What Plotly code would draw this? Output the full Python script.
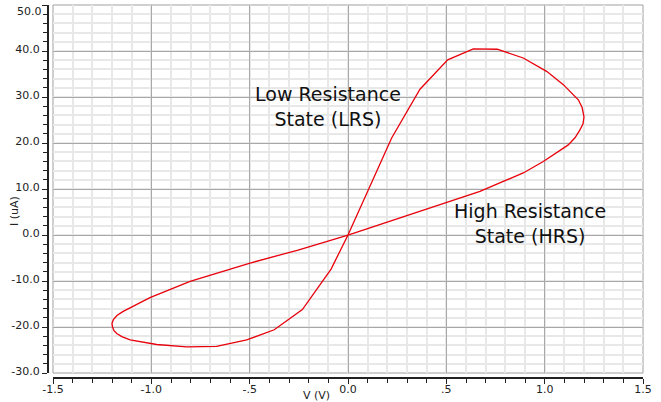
import plotly.graph_objects as go

# Hysteresis loop data (V in volts, I in uA)
voltage = [0.0, 0.163, 0.222, 0.366, 0.507, 0.637, 0.759, 0.891, 1.01, 1.095, 1.171, 1.19, 1.2,
           1.195, 1.18, 1.155, 1.12, 0.993, 0.891, 0.671, 0.502, 0.163, 0.0, -0.254, -0.498, -0.803,
           -1.007, -1.143, -1.175, -1.193, -1.2, -1.198, -1.19, -1.176, -1.15, -1.108, -0.973,
           -0.82, -0.668, -0.515, -0.375, -0.232, -0.086, 0.0]
current = [0.0, 15.3, 21.1, 31.7, 38.1, 40.5, 40.4, 38.5, 35.6, 32.7, 29.4, 27.8, 25.7,
           24.2, 22.9, 21.2, 19.6, 16.0, 13.5, 9.5, 7.1, 2.2, 0.0, -3.26, -6.1, -10.1,
           -13.6, -16.6, -17.5, -18.4, -19.2, -19.9, -20.8, -21.4, -22.1, -22.8, -23.8,
           -24.3, -24.2, -22.8, -20.6, -16.2, -7.4, 0.0]

x_tickvals = [-1.5, -1.0, -0.5, 0.0, 0.5, 1.0, 1.5]
x_ticktext = ["-1.5", "-1.0", "-.5", "0.0", ".5", "1.0", "1.5"]
y_tickvals = [-30, -20, -10, 0, 10, 20, 30, 40, 50]
y_ticktext = ["-30.0", "-20.0", "-10.0", "0.0", "10.0", "20.0", "30.0", "40.0", "50.0"]

labels = ["Low Resistance<br>State (LRS)", "High Resistance<br>State (HRS)"]
label_x = [-0.10, 0.925]
label_y = [27.9, 2.5]

FONT = "DejaVu Sans"
W, H = 661, 402
ml, mr, mt, mb = 48, 18, 5, 24
pw = W - ml - mr
ph = H - mt - mb
off = 5

fig = go.Figure()
fig.add_trace(go.Scatter(x=voltage, y=current, mode="lines",
                         line=dict(color="#e8000b", width=1.3), showlegend=False,
                         hoverinfo="skip"))

major_grid = "#a8a8a8"
minor_grid = "#e8e8e8"

# the top label is drawn separately (pushed down below the frame edge as in the reference)
y_axis_text = y_ticktext[:-1] + [""]

fig.update_layout(
    width=W, height=H,
    margin=dict(l=ml, r=mr, t=mt, b=mb, pad=0, autoexpand=False),
    paper_bgcolor="white", plot_bgcolor="white",
    font=dict(family=FONT, size=11, color="#222"),
    xaxis=dict(
        range=[-1.5, 1.5], domain=[off / pw, 1], anchor="free", position=0,
        automargin=False,
        tickmode="array", tickvals=x_tickvals, ticktext=x_ticktext,
        showgrid=True, gridcolor=major_grid, gridwidth=1,
        zeroline=False, showline=True, linecolor="#222", linewidth=2,
        ticks="outside", ticklen=5, tickcolor="#222", tickwidth=1,
        ticklabelstandoff=-4,
        tickfont=dict(family=FONT, size=11, color="#222"),
        minor=dict(tickmode="linear", tick0=0, dtick=0.1, showgrid=True,
                   gridcolor=minor_grid, gridwidth=2,
                   ticks="outside", ticklen=4, tickcolor="#222", tickwidth=1),
    ),
    yaxis=dict(
        range=[-30, 50.02], domain=[off / ph, 1], anchor="free", position=0,
        automargin=False,
        tickmode="array", tickvals=y_tickvals, ticktext=y_axis_text,
        showgrid=True, gridcolor=major_grid, gridwidth=1,
        zeroline=False, showline=True, linecolor="#222", linewidth=2,
        ticks="outside", ticklen=5, tickcolor="#222", tickwidth=1,
        ticklabelshift=-2,
        tickfont=dict(family=FONT, size=11, color="#222"),
        minor=dict(tickmode="linear", tick0=0, dtick=2, showgrid=True,
                   gridcolor=minor_grid, gridwidth=2,
                   ticks="outside", ticklen=4, tickcolor="#222", tickwidth=1),
    ),
)

# plot area frame
fig.add_shape(type="rect", xref="x domain", yref="y domain", x0=0, x1=1, y0=0, y1=1,
              line=dict(color="#a0a0a0", width=1), layer="below")

for t, lx, ly in zip(labels, label_x, label_y):
    fig.add_annotation(x=lx, y=ly, xref="x", yref="y", text=t, showarrow=False,
                       align="center", font=dict(family=FONT, size=19, color="#111"))

# top y tick label
fig.add_annotation(x=0, y=1 - (11 - mt) / ph, xref="paper", yref="paper",
                   text=y_ticktext[-1], showarrow=False, xanchor="right", yanchor="middle",
                   xshift=-4, font=dict(family=FONT, size=11, color="#222"))

# axis titles
fig.add_annotation(x=(316 - ml) / pw, y=-(395.5 - (H - mb)) / ph, xref="paper", yref="paper",
                   text="V (V)", showarrow=False, xanchor="center", yanchor="middle",
                   font=dict(family=FONT, size=11, color="#222"))
fig.add_annotation(x=-(ml - 15) / pw, y=(H - mb - 211) / ph, xref="paper", yref="paper",
                   text="I (uA)", showarrow=False, textangle=-90, xanchor="center",
                   yanchor="middle", font=dict(family=FONT, size=11, color="#222"))

fig.write_html("out.html")
